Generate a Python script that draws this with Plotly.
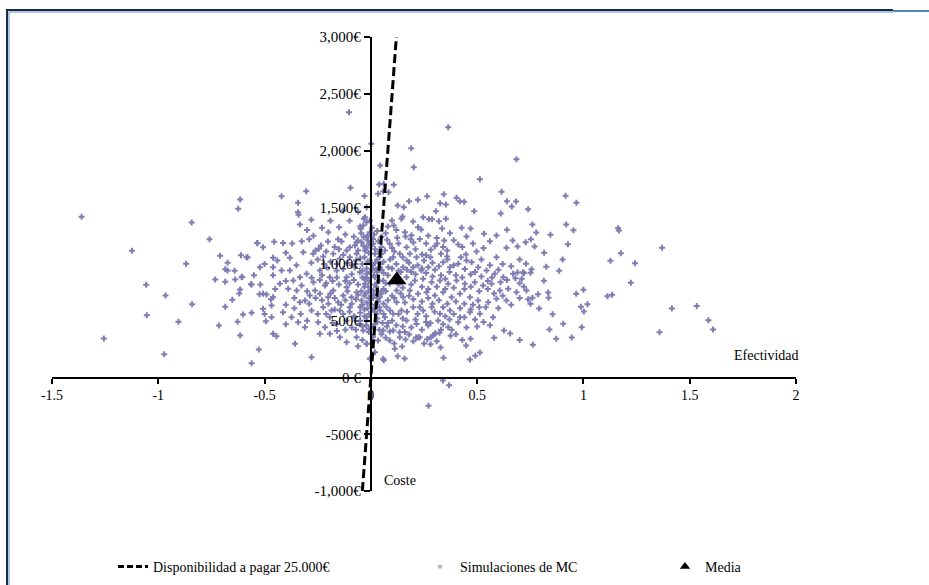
import plotly.graph_objects as go

# ---------------- data ----------------
wtp = 25000  # euros per unit of effectiveness
wtp_cost = [-1000, 3000]
wtp_effect = [c / wtp for c in wtp_cost]

mean_effect = [0.122]
mean_cost = [860]

x_tickvals = [-1.5, -1, -0.5, 0, 0.5, 1, 1.5, 2]
x_ticktext = ["-1.5", "-1", "-0.5", "0", "0.5", "1", "1.5", "2"]
y_tickvals = [-1000, -500, 0, 500, 1000, 1500, 2000, 2500, 3000]
y_ticktext = ["-1,000€", "-500€", "0 €", "500€", "1,000€", "1,500€", "2,000€", "2,500€", "3,000€"]

legend_names = ["Disponibilidad a pagar 25.000€", "Simulaciones de MC", "Media"]

# Monte Carlo simulations (effect, cost)
sim_far_left = [
    (-1.361, 1416), (-0.615, 1568), (-0.624, 1486), (-0.843, 1366), (-0.759, 1218), (-1.124, 1116),
    (-0.533, 1183), (-0.709, 1072), (-0.611, 1077), (-0.580, 1060), (-0.674, 1010), (-0.869, 1002),
    (-0.685, 954), (-0.674, 943), (-0.641, 940), (-0.605, 887), (-0.732, 863), (-0.685, 843),
    (-0.638, 863), (-0.564, 822), (-1.057, 817), (-0.615, 775), (-0.619, 740), (-0.524, 734),
    (-0.966, 722), (-0.652, 685), (-0.841, 646), (-0.685, 623), (-0.601, 555), (-0.561, 570),
    (-1.054, 549), (-0.905, 491), (-0.627, 491), (-0.715, 458), (-0.615, 370), (-1.256, 344),
    (-0.527, 247), (-0.972, 205), (-0.561, 126),
]

sim_left_core = [
    (-0.103, 2337), (-0.096, 1671), (-0.304, 1641), (-0.420, 1597), (-0.343, 1539), (-0.343, 1456),
    (-0.340, 1433), (-0.334, 1348), (-0.149, 1324),
    (-0.033, 1398), (-0.020, 1368), (-0.048, 1310), (-0.005, 1280), (-0.033, 1236), (-0.013, 1207),
    (-0.044, 1192), (0.003, 1163), (-0.020, 1143), (-0.060, 1207), (-0.075, 1163),
    (-0.535, 1186), (-0.507, 1148), (-0.455, 1196), (-0.413, 1186), (-0.325, 1201), (-0.290, 1218),
    (-0.235, 1163), (-0.245, 1134), (-0.202, 1198), (-0.154, 1218), (-0.138, 1198), (-0.114, 1119),
    (-0.099, 1148), (-0.067, 1192),
    (-0.585, 1060), (-0.460, 1055), (-0.381, 1055), (-0.318, 1104), (-0.271, 1090), (-0.224, 1066),
    (-0.177, 1090), (-0.146, 1046), (-0.099, 1060), (-0.067, 1090),
    (-0.608, 884), (-0.561, 819), (-0.460, 972), (-0.381, 943), (-0.334, 884), (-0.302, 914),
    (-0.279, 878), (-0.240, 943), (-0.208, 972), (-0.193, 884), (-0.161, 943), (-0.130, 957),
    (-0.114, 884), (-0.075, 972), (-0.052, 928), (-0.420, 943), (-0.522, 972),
    (-0.507, 737), (-0.491, 731), (-0.467, 634), (-0.460, 707), (-0.428, 825), (-0.389, 781),
    (-0.365, 855), (-0.349, 766), (-0.326, 810), (-0.310, 678), (-0.287, 722), (-0.334, 663),
    (-0.263, 766), (-0.240, 737), (-0.216, 810), (-0.201, 707), (-0.177, 766), (-0.154, 663),
    (-0.130, 722), (-0.114, 795), (-0.091, 707), (-0.067, 751), (-0.044, 678), (-0.099, 619),
    (-0.146, 590), (-0.185, 590), (-0.224, 619), (-0.279, 590),
    (-0.507, 605), (-0.494, 496), (-0.467, 531), (-0.460, 385), (-0.444, 364),
    (-0.413, 575), (-0.373, 531), (-0.342, 487), (-0.310, 443),
    (-0.248, 487), (-0.216, 443), (-0.193, 531), (-0.161, 472), (-0.114, 502), (-0.075, 531),
    (-0.052, 472), (-0.240, 385), (-0.193, 385), (-0.146, 355), (-0.114, 311), (-0.067, 355),
    (-0.020, 297), (-0.357, 297), (-0.279, 179), (-0.060, 276), (0.058, 165),
    (-0.28, 1010), (-0.25, 1040), (-0.22, 1000), (-0.19, 1020), (-0.16, 1000), (-0.13, 1080),
    (-0.11, 1010), (-0.09, 990), (-0.07, 1030), (-0.04, 1000), (-0.03, 1060), (-0.02, 960),
    (-0.27, 840), (-0.24, 860), (-0.21, 830), (-0.18, 850), (-0.15, 820), (-0.12, 850),
    (-0.10, 830), (-0.08, 860), (-0.06, 820), (-0.04, 880), (-0.03, 800), (-0.01, 850),
    (-0.26, 700), (-0.23, 680), (-0.20, 650), (-0.17, 700), (-0.14, 640), (-0.12, 680),
    (-0.09, 650), (-0.07, 690), (-0.05, 620), (-0.03, 720), (-0.02, 660),
    (-0.21, 560), (-0.17, 600), (-0.13, 560), (-0.10, 580), (-0.08, 540), (-0.05, 570),
    (-0.03, 600), (-0.02, 500), (-0.04, 450), (-0.09, 440), (-0.12, 420), (-0.16, 410),
    (-0.37, 1180), (-0.30, 1300), (-0.27, 1250), (-0.20, 1280), (-0.12, 1260), (-0.08, 1240),
    (-0.05, 1330), (-0.10, 1380), (-0.17, 1150), (-0.40, 1100), (-0.46, 900), (-0.40, 850),
    (-0.36, 700), (-0.40, 640), (-0.30, 760), (-0.45, 780), (-0.55, 900), (-0.50, 1000),
    (-0.25, 560), (-0.30, 500), (-0.33, 560), (-0.50, 560), (-0.40, 470),
    (-0.26, 1120), (-0.21, 1110), (-0.15, 1130), (-0.06, 1120), (-0.01, 1100), (-0.23, 900),
    (-0.16, 880), (-0.09, 910), (-0.02, 880), (-0.29, 650), (-0.19, 740), (-0.11, 760),
    (-0.06, 730), (-0.01, 760), (-0.18, 480), (-0.07, 420), (-0.01, 400), (-0.04, 330),
    (-0.35, 990), (-0.44, 1030), (-0.52, 820), (-0.36, 610), (-0.47, 690), (-0.23, 1320),
    (-0.13, 1470), (-0.06, 1460), (-0.02, 1500), (-0.19, 1380), (-0.28, 1390), (-0.03, 1600),
]

sim_axis_band = [
    (-0.045, 1270), (-0.015, 1250), (-0.035, 1160), (-0.010, 1180), (-0.050, 1050),
    (-0.015, 1020), (-0.040, 940), (-0.005, 930), (-0.030, 870), (-0.012, 800),
    (-0.045, 760), (-0.025, 740), (-0.008, 700), (-0.040, 640), (-0.015, 610),
    (-0.030, 540), (-0.008, 560), (-0.050, 500), (-0.022, 460), (-0.010, 430),
    (0.015, 1260), (0.035, 1200), (0.020, 1130), (0.050, 1090), (0.030, 1040),
    (0.010, 990), (0.045, 1000), (0.025, 950), (0.060, 920), (0.015, 900),
    (0.040, 850), (0.070, 830), (0.025, 800), (0.050, 760), (0.015, 730),
    (0.035, 670), (0.060, 650), (0.020, 640), (0.045, 590), (0.010, 600),
    (0.030, 520), (0.055, 480), (0.020, 470), (0.040, 420), (0.075, 450),
]

sim_center = [
    (0.364, 2205), (0.002, 2059), (0.190, 2020), (0.202, 1853), (0.685, 1923), (0.044, 1868),
    (0.513, 1747), (0.039, 1700), (0.061, 1706), (0.108, 1698), (0.058, 1639), (0.034, 1618),
    (0.083, 1633), (0.265, 1597), (0.221, 1565), (0.180, 1553), (0.126, 1515), (0.155, 1500),
    (0.343, 1615), (0.326, 1536), (0.353, 1524), (0.403, 1583), (0.419, 1553), (0.439, 1548),
    (0.615, 1636), (0.640, 1553), (0.683, 1551), (0.663, 1507), (0.740, 1483), (0.486, 1465),
    (0.611, 1445), (0.306, 1465), (0.273, 1395), (0.246, 1412), (0.353, 1398), (0.320, 1377),
    (-0.027, 1412), (-0.005, 1383), (-0.036, 1339), (0.006, 1319),
    (0.099, 1383), (0.108, 1339), (0.149, 1418), (0.144, 1398), (0.199, 1374), (0.222, 1324),
    (0.288, 1395), (0.237, 1304), (0.191, 1254), (0.187, 1218), (0.163, 1242), (0.124, 1231),
    (0.077, 1213), (0.335, 1313), (0.345, 1207), (0.312, 1181), (0.372, 1271), (0.411, 1172),
    (0.450, 1242), (0.469, 1313), (0.427, 1319), (0.532, 1266), (0.591, 1251), (0.640, 1301),
    (0.667, 1207), (0.690, 1154), (0.728, 1192), (0.591, 1060), (0.638, 1143),
    (0.497, 1110), (0.447, 1084), (0.423, 1060), (0.359, 1119), (0.359, 1066),
    (0.301, 1157), (0.282, 1125), (0.260, 1078), (0.241, 1084), (0.215, 1060), (0.183, 1090),
    (0.168, 1031),
    (0.199, 972), (0.238, 943), (0.270, 972), (0.301, 949), (0.340, 1016), (0.372, 972),
    (0.411, 1002), (0.442, 957), (0.474, 1016), (0.505, 972), (0.544, 943), (0.583, 914),
    (0.623, 884), (0.669, 914), (0.716, 928),
    (0.168, 884), (0.207, 855), (0.246, 870), (0.286, 840), (0.325, 855), (0.364, 825),
    (0.403, 855), (0.442, 825), (0.489, 840), (0.528, 810), (0.568, 825), (0.607, 766),
    (0.646, 781), (0.685, 751), (0.732, 766),
    (0.183, 766), (0.222, 737), (0.262, 751), (0.301, 722), (0.340, 751), (0.380, 707),
    (0.419, 737), (0.466, 707), (0.505, 678), (0.552, 663), (0.591, 693), (0.638, 678),
    (0.199, 619), (0.246, 590), (0.286, 619), (0.325, 561), (0.372, 590), (0.419, 531),
    (0.466, 575), (0.513, 561), (0.575, 531),
    (0.168, 502), (0.215, 472), (0.270, 458), (0.317, 502), (0.364, 443), (0.411, 487),
    (0.301, 385), (0.230, 355), (0.105, 414), (0.136, 355), (0.089, 326),
    (-0.020, 1236), (0.011, 1178), (-0.028, 1119), (0.019, 1090), (-0.005, 1031), (0.042, 1060),
    (0.066, 1119), (0.089, 1178), (0.042, 972), (0.082, 972), (-0.020, 914), (0.019, 884),
    (0.058, 855), (-0.028, 825), (0.011, 766), (0.089, 825), (0.121, 766), (0.042, 707),
    (-0.005, 649), (0.074, 619), (0.121, 663), (0.152, 707), (0.027, 561), (-0.020, 531),
    (0.066, 531), (0.105, 561), (0.144, 590), (0.011, 443), (-0.036, 414), (0.058, 414),
    (0.034, 326), (-0.020, 297), (0.019, 223), (-0.005, 165),
    (0.152, 972), (0.136, 1090), (0.168, 1148), (0.105, 1060),
    (0.061, 152), (0.113, 253), (0.147, 273), (0.126, 188), (0.159, 167), (0.163, 335),
    (0.213, 352), (0.222, 352), (0.265, 337), (0.282, 355), (0.293, 370), (0.304, 390),
    (0.323, 394), (0.281, 293), (0.328, 264), (0.342, 174), (0.339, -26), (0.368, -68),
    (0.271, -249), (0.375, 367), (0.448, 282), (0.469, 341), (0.466, 159), (0.491, 191),
    (0.513, 220), (0.626, 414), (0.655, 388), (0.762, 288), (0.872, 341), (0.945, 352),
    (1.358, 399), (0.089, 405), (0.135, 399), (0.180, 379),
    (0.03, 1290), (0.07, 1270), (0.12, 1300), (0.05, 1150), (0.10, 1140), (0.13, 1180),
    (0.20, 1190), (0.23, 1220), (0.27, 1250), (0.31, 1230), (0.39, 1210), (0.43, 1150),
    (0.48, 1180), (0.53, 1140), (0.56, 1200),
    (0.02, 1010), (0.06, 1020), (0.09, 1040), (0.12, 1000), (0.18, 1010), (0.22, 990),
    (0.25, 1030), (0.29, 1010), (0.32, 980), (0.36, 1040), (0.39, 990), (0.45, 1030),
    (0.52, 1040), (0.56, 990), (0.62, 1000), (0.66, 980), (0.70, 1040),
    (0.03, 930), (0.08, 900), (0.14, 930), (0.17, 950), (0.21, 910), (0.26, 920),
    (0.33, 900), (0.37, 930), (0.40, 900), (0.47, 910), (0.52, 890), (0.57, 880),
    (0.60, 950), (0.64, 860), (0.71, 870),
    (0.02, 820), (0.06, 780), (0.13, 820), (0.15, 790), (0.19, 820), (0.24, 800),
    (0.27, 780), (0.31, 800), (0.35, 780), (0.39, 790), (0.44, 780), (0.47, 800),
    (0.51, 760), (0.55, 780), (0.58, 740), (0.62, 720),
    (0.03, 700), (0.08, 680), (0.10, 720), (0.16, 660), (0.20, 690), (0.24, 670),
    (0.27, 700), (0.32, 680), (0.36, 650), (0.40, 670), (0.44, 650), (0.48, 640),
    (0.54, 620), (0.60, 610), (0.66, 640),
    (0.04, 620), (0.09, 590), (0.13, 560), (0.17, 580), (0.22, 560), (0.26, 540),
    (0.30, 580), (0.35, 540), (0.39, 560), (0.44, 530), (0.49, 510), (0.53, 490),
    (0.03, 490), (0.08, 480), (0.12, 460), (0.19, 440), (0.24, 420), (0.28, 480),
    (0.34, 470), (0.38, 420), (0.45, 440), (0.50, 450), (0.56, 460),
    (0.05, 380), (0.16, 400), (0.20, 320), (0.25, 300), (0.31, 320), (0.40, 380),
    (0.43, 330), (0.58, 350), (0.70, 330),
    (0.01, 1220), (0.05, 1240), (0.08, 1330), (0.16, 1280), (0.26, 1180), (0.34, 1150),
    (0.04, 1110), (0.11, 1110), (0.15, 1060), (0.21, 1130), (0.28, 1060), (0.33, 1090),
    (0.01, 960), (0.05, 950), (0.10, 960), (0.13, 940), (0.19, 930), (0.24, 960),
    (0.29, 890), (0.35, 870), (0.43, 880), (0.49, 930), (0.55, 850), (0.61, 840),
    (0.01, 700), (0.05, 740), (0.07, 760), (0.11, 700), (0.14, 740), (0.18, 720),
    (0.23, 620), (0.29, 650), (0.34, 620), (0.42, 610), (0.47, 600), (0.51, 620),
    (0.02, 580), (0.06, 560), (0.10, 500), (0.15, 520), (0.21, 510), (0.26, 490),
    (0.01, 360), (0.07, 350), (0.11, 300), (0.15, 450), (0.33, 420), (0.37, 510),
]

sim_right = [
    (0.916, 1601), (0.967, 1539), (0.760, 1348), (0.778, 1277), (0.753, 1218), (0.770, 1154),
    (0.845, 1257), (0.919, 1348), (0.953, 1298), (0.927, 1175), (1.163, 1315), (1.167, 1295),
    (1.176, 1095), (1.370, 1143), (1.127, 1028), (1.243, 1007), (0.815, 1099), (0.902, 1040),
    (0.825, 975), (0.886, 940), (0.814, 852), (0.756, 954), (0.751, 922), (0.751, 649),
    (0.760, 702), (0.786, 734), (0.792, 608), (0.834, 749), (0.836, 702), (0.966, 737),
    (1.000, 773), (0.988, 623), (1.002, 581), (1.019, 646), (0.855, 558), (1.113, 716),
    (1.135, 729), (1.223, 834), (0.905, 473), (0.840, 423), (0.992, 443), (1.416, 608),
    (1.533, 631), (1.588, 505), (1.610, 423),
    (0.73, 1002), (0.72, 919), (0.69, 925), (0.68, 875), (0.70, 830), (0.72, 800),
    (0.74, 690), (0.70, 700),
]

sims = sim_far_left + sim_left_core + sim_axis_band + sim_center + sim_right
sim_effect = [p[0] for p in sims]
sim_cost = [p[1] for p in sims]

# ---------------- figure ----------------
FONT = "Liberation Serif, Times New Roman, serif"
PT_COLOR = "rgb(125,125,178)"

fig = go.Figure()

fig.add_trace(go.Scatter(
    x=sim_effect, y=sim_cost, mode="markers",
    marker=dict(symbol="cross", size=5, color=PT_COLOR, line=dict(width=0)),
    showlegend=False, hoverinfo="skip",
))
fig.add_trace(go.Scatter(
    x=wtp_effect, y=wtp_cost, mode="lines",
    line=dict(color="black", width=3, dash="9px,4px"),
    showlegend=False, hoverinfo="skip",
))
fig.add_trace(go.Scatter(
    x=mean_effect, y=mean_cost, mode="markers",
    marker=dict(symbol="triangle-up", size=17, color="black"),
    showlegend=False, hoverinfo="skip",
))

# legend entries (one legend box each, to place them as in the original)
fig.add_trace(go.Scatter(x=[None], y=[None], mode="lines",
                         line=dict(color="black", width=3, dash="6px,3px"),
                         name=legend_names[0], legend="legend"))
fig.add_trace(go.Scatter(x=[None], y=[None], mode="markers",
                         marker=dict(symbol="cross", size=4, color="rgb(170,170,200)"),
                         name=legend_names[1], legend="legend2"))
fig.add_trace(go.Scatter(x=[None], y=[None], mode="markers",
                         marker=dict(symbol="triangle-up", size=9, color="black"),
                         name=legend_names[2], legend="legend3"))

L, R, T, B = 52, 133, 37, 94
W, H = 929, 585
pw, ph = W - L - R, H - T - B


def px_x(px):
    return (px - L) / pw


def px_y(py):
    return (H - B - py) / ph


legend_common = dict(
    orientation="h", xanchor="left", yanchor="middle", y=px_y(567),
    font=dict(family=FONT, size=14, color="black"), bgcolor="rgba(0,0,0,0)",
)

fig.update_layout(
    width=W, height=H,
    margin=dict(l=L, r=R, t=T, b=B, pad=0, autoexpand=False),
    paper_bgcolor="white", plot_bgcolor="white",
    font=dict(family=FONT, size=14, color="black"),
    xaxis=dict(
        range=[-1.5, 2], tickvals=x_tickvals, ticktext=x_ticktext,
        anchor="free", position=0.25,
        showline=True, linecolor="black", linewidth=2,
        ticks="outside", ticklen=5, tickwidth=2, tickcolor="black",
        showgrid=False, zeroline=False,
        tickfont=dict(family=FONT, size=14, color="black"),
    ),
    yaxis=dict(
        range=[-1000, 3000], tickvals=y_tickvals, ticktext=y_ticktext,
        anchor="free", position=1.5 / 3.5,
        showline=True, linecolor="black", linewidth=2,
        ticks="outside", ticklen=6, tickwidth=2, tickcolor="black",
        showgrid=False, zeroline=False,
        tickfont=dict(family=FONT, size=15, color="black"),
    ),
    legend=dict(x=px_x(113), **legend_common),
    legend2=dict(x=px_x(420), **legend_common),
    legend3=dict(x=px_x(665), **legend_common),
    annotations=[
        dict(text="Efectividad", x=1.86, y=190, xref="x", yref="y",
             showarrow=False, font=dict(family=FONT, size=14, color="black")),
        dict(text="Coste", x=0.135, y=-907, xref="x", yref="y",
             showarrow=False, font=dict(family=FONT, size=14, color="black")),
    ],
    shapes=[
        dict(type="line", xref="paper", yref="paper",
             x0=px_x(7), x1=px_x(893), y0=px_y(10), y1=px_y(10),
             line=dict(color="#1c2b45", width=2)),
        dict(type="line", xref="paper", yref="paper",
             x0=px_x(9), x1=px_x(893), y0=px_y(12), y1=px_y(12),
             line=dict(color="#5b8fc4", width=1)),
        dict(type="line", xref="paper", yref="paper",
             x0=px_x(893), x1=px_x(929), y0=px_y(11), y1=px_y(11),
             line=dict(color="#4f86c0", width=2)),
        dict(type="line", xref="paper", yref="paper",
             x0=px_x(7), x1=px_x(7), y0=px_y(9), y1=px_y(585),
             line=dict(color="#1c2b45", width=2)),
        dict(type="line", xref="paper", yref="paper",
             x0=px_x(9), x1=px_x(9), y0=px_y(12), y1=px_y(585),
             line=dict(color="#5b8fc4", width=1)),
    ],
)

fig.write_html("out.html", config={"displayModeBar": False})

# remove the browser's default page margin so the figure sits at (0, 0)
with open("out.html", encoding="utf-8") as f:
    html = f.read()
html = html.replace("<head>", "<head><style>html,body{margin:0;padding:0;overflow:hidden;}</style>", 1)
with open("out.html", "w", encoding="utf-8") as f:
    f.write(html)
